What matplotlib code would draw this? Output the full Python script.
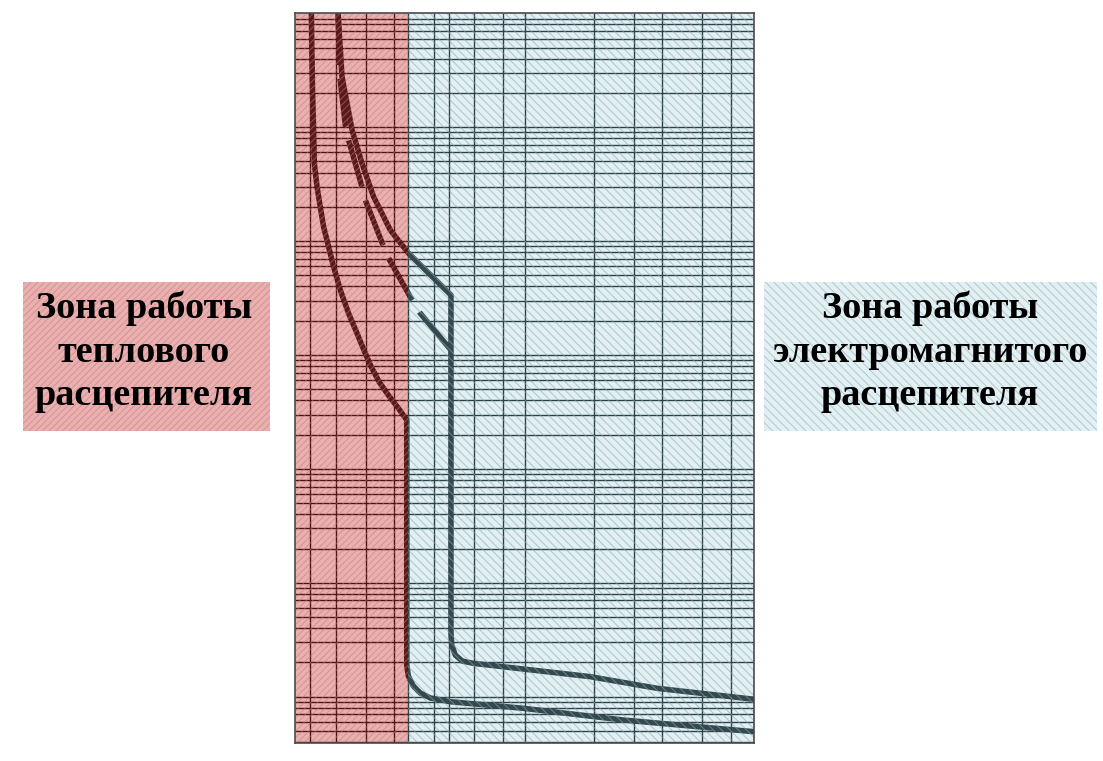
import matplotlib
matplotlib.use("Agg")
import matplotlib.pyplot as plt
from matplotlib.patches import Rectangle

# ---------------- data ----------------
x_limits = (0.49, 50.6)          # current multiple (log)
y_limits = (0.0039, 1.0e4)       # time, s (log)
zone_boundary = 1.54             # thermal / electromagnetic zone border

grid_x_thermal = [0.57, 0.74, 1.0, 1.33]
grid_x_magnetic = [1.54, 2.0, 2.33, 3.0, 4.0, 5.0, 10.0, 15.0, 20.0, 30.0, 40.0]
grid_y_decades = [1e-3, 1e-2, 1e-1, 1.0, 10.0, 100.0, 1000.0]
grid_y_steps = [1, 2, 3, 4, 5, 6, 7, 8, 9]

lower_I = [0.578, 0.5808, 0.5849, 0.5912, 0.5957, 0.612, 0.6325, 0.654, 0.688, 0.7236,
           0.7745, 0.842, 0.917, 0.987, 1.059, 1.148, 1.258, 1.391, 1.515,
           1.515, 1.540, 1.619, 1.738, 1.922, 2.352, 4.93, 13.54, 50.7]
lower_t = [1e4, 4764, 2121, 945, 482, 300, 200.5, 133.8, 89.3, 59.6,
           37.2, 23.2, 15.5, 10.84, 7.85, 5.79, 4.45, 3.42, 2.69,
           0.019, 0.0152, 0.01242, 0.01077, 0.00975, 0.00904, 0.00791, 0.00624, 0.00493]

upper_I = [0.757, 0.788, 0.872, 0.964, 1.084, 1.160, 1.283, 1.544, 2.369,
           2.369, 2.388, 2.474, 2.656, 2.976, 9.67, 18.97, 50.7]
upper_t = [1e4, 2776, 945, 482, 245, 187.6, 125, 78.1, 33.6,
           0.0362, 0.0284, 0.02323, 0.02056, 0.01963, 0.0150, 0.01186, 0.00949]

dashed_I = [0.757, 0.774, 0.815, 0.842, 0.964, 0.997, 1.192, 1.262, 1.598, 1.738, 2.369]
dashed_t = [1e4, 2597, 1045, 772, 300, 229.5, 92.4, 70.6, 30.4, 23.2, 11.06]

label_thermal = ["Зона работы", "теплового", "расцепителя"]
label_magnetic = ["Зона работы", "электромагнитого", "расцепителя"]

# ---------------- style ----------------
W, H = 1103, 761
red_bg = "#eab0b0"
red_hatch = "#c07c7c"
blue_bg = "#e3f0f3"
blue_hatch = "#86a7b0"
red_grid = "#4e1212"
slate_grid = "#2c4146"
red_curve = "#5a1818"
slate_curve = "#34494e"

plt.rcParams["hatch.linewidth"] = 0.8

fig = plt.figure(figsize=(W / 100, H / 100), dpi=100)
fig.patch.set_facecolor("white")

ax_l, ax_r, ax_t, ax_b = 295, 754, 13.3, 743.3
ax = fig.add_axes([ax_l / W, 1 - ax_b / H, (ax_r - ax_l) / W, (ax_b - ax_t) / H])
ax.set_xscale("log")
ax.set_yscale("log")
ax.set_xlim(*x_limits)
ax.set_ylim(*y_limits)
ax.set_xticks([])
ax.set_yticks([])
ax.minorticks_off()
ax.tick_params(which="both", length=0, labelbottom=False, labelleft=False)
for s in ax.spines.values():
    s.set_color("#4a4a4a")
    s.set_linewidth(1.2)
    s.set_zorder(10)

x0, x1 = x_limits
y0, y1 = y_limits

# zone backgrounds
ax.add_patch(Rectangle((x0, y0), zone_boundary - x0, y1 - y0, facecolor=red_bg,
                       edgecolor="none", zorder=0))
ax.add_patch(Rectangle((zone_boundary, y0), x1 - zone_boundary, y1 - y0,
                       facecolor=blue_bg, edgecolor="none", zorder=0))

# grid
ys = [d * s for d in grid_y_decades for s in grid_y_steps]
ys = [v for v in ys if y0 < v < y1]
ax.hlines(ys, x0, zone_boundary, colors=red_grid, linewidth=1.0, zorder=2)
ax.hlines(ys, zone_boundary, x1, colors=slate_grid, linewidth=1.0, zorder=2)
ax.vlines(grid_x_thermal, y0, y1, colors=red_grid, linewidth=1.0, zorder=2)
ax.vlines(grid_x_magnetic, y0, y1, colors=slate_grid, linewidth=1.0, zorder=2)

# curves, coloured by zone
clip_red = Rectangle((x0, y0), zone_boundary - x0, y1 - y0, transform=ax.transData)
clip_blue = Rectangle((zone_boundary, y0), x1 - zone_boundary, y1 - y0, transform=ax.transData)

def draw_curve(I, t, **kw):
    for color, clip in ((red_curve, clip_red), (slate_curve, clip_blue)):
        ln, = ax.plot(I, t, color=color, linewidth=4.0, zorder=4,
                      solid_capstyle="butt", solid_joinstyle="round", **kw)
        ln.set_clip_path(clip)

draw_curve(lower_I, lower_t)
draw_curve(upper_I, upper_t)
draw_curve(dashed_I, dashed_t, linestyle=(10.6, (8.7, 2.5)), dash_capstyle="butt")

# hatch texture overlay
ax.add_patch(Rectangle((x0, y0), zone_boundary - x0, y1 - y0, facecolor="none",
                       edgecolor=red_hatch, linewidth=0, hatch="/////", alpha=0.5, zorder=6))
ax.add_patch(Rectangle((zone_boundary, y0), x1 - zone_boundary, y1 - y0, facecolor="none",
                       edgecolor=blue_hatch, linewidth=0, hatch="\\\\\\\\", alpha=0.55, zorder=6))

# label boxes
def label_box(left, top, right, bottom, bg, hc, hatch, lines, cx):
    fig.add_artist(Rectangle((left / W, 1 - bottom / H), (right - left) / W, (bottom - top) / H,
                             transform=fig.transFigure, facecolor=bg, edgecolor="none", zorder=1))
    fig.add_artist(Rectangle((left / W, 1 - bottom / H), (right - left) / W, (bottom - top) / H,
                             transform=fig.transFigure, facecolor="none", edgecolor=hc,
                             linewidth=0, hatch=hatch, alpha=0.5, zorder=2))
    baselines = [318, 362, 405]
    for txt, b in zip(lines, baselines):
        fig.text(cx / W, 1 - b / H, txt, ha="center", va="baseline",
                 family="Liberation Serif", weight="bold", fontsize=27.5, color="black", zorder=3)

label_box(23, 282, 270, 431, red_bg, red_hatch, "/////", label_thermal, 144)
label_box(764, 282, 1097, 431, blue_bg, blue_hatch, "\\\\\\\\", label_magnetic, 930)

fig.savefig("out.png", dpi=100, facecolor="white")
